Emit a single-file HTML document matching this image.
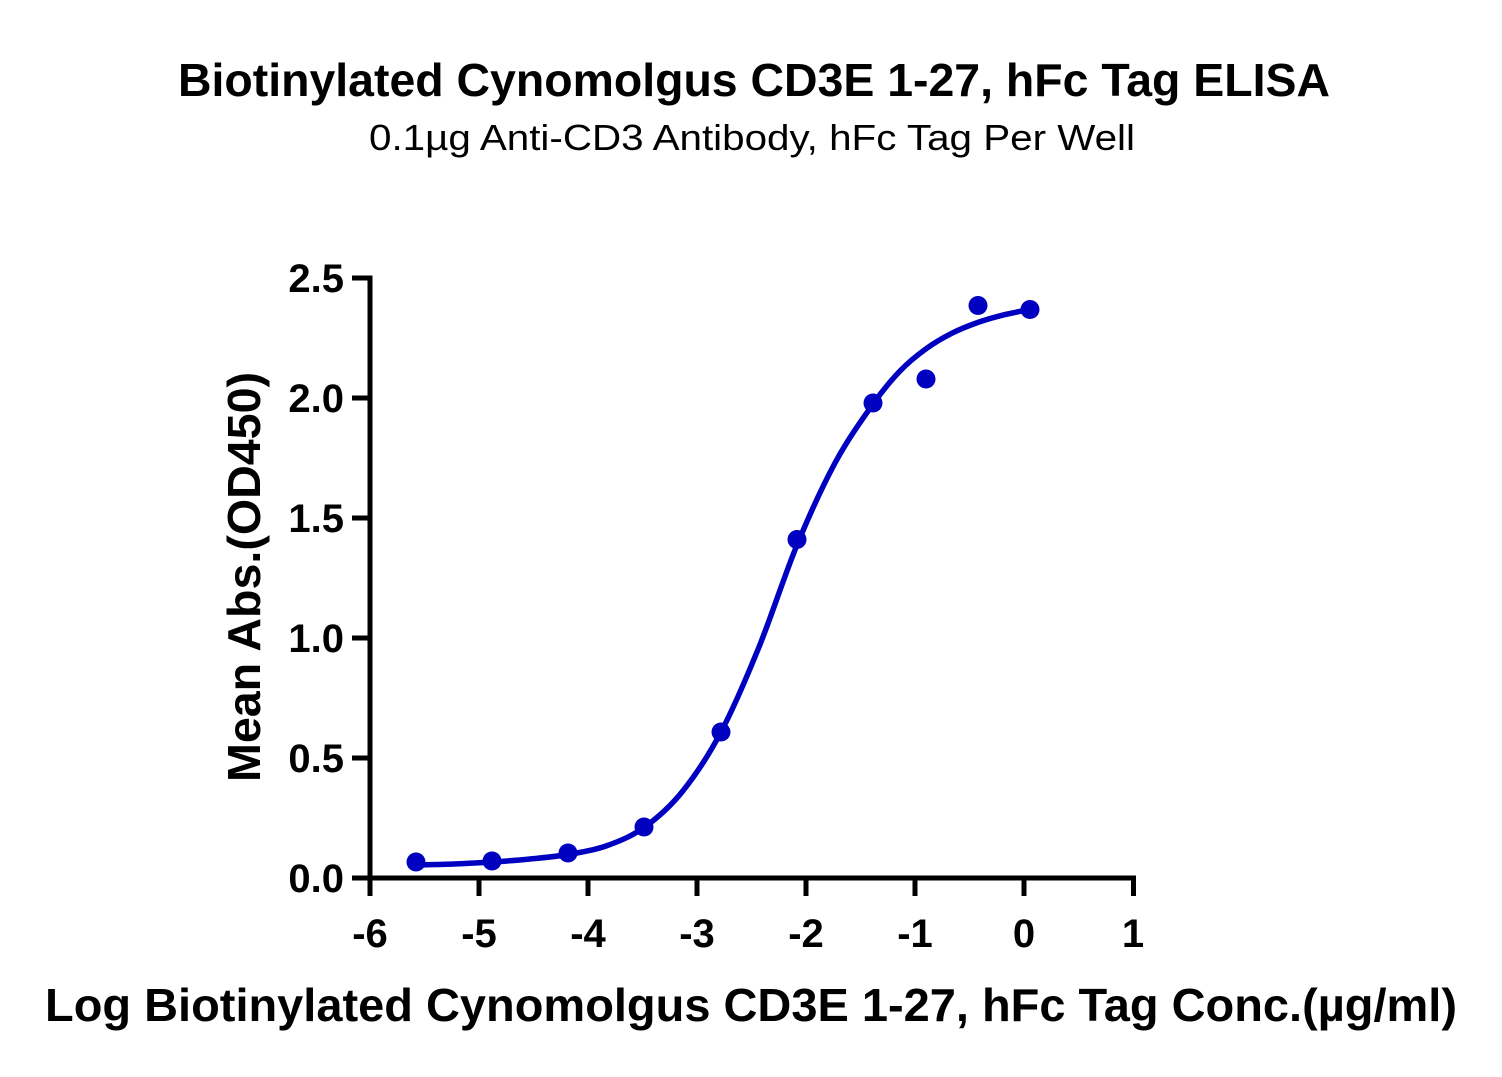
<!DOCTYPE html>
<html>
<head>
<meta charset="utf-8">
<style>
  html, body { margin: 0; padding: 0; background: #ffffff; }
  body { width: 1502px; height: 1077px; overflow: hidden; }
  svg { display: block; }
  text { font-family: "Liberation Sans", "DejaVu Sans", sans-serif; fill: #000; }
</style>
</head>
<body>
<svg width="1502" height="1077" viewBox="0 0 1502 1077" xmlns="http://www.w3.org/2000/svg">
  <rect x="0" y="0" width="1502" height="1077" fill="#ffffff"/>

  <!-- Titles -->
  <text x="178" y="96" font-size="46" font-weight="bold" textLength="1152" lengthAdjust="spacingAndGlyphs">Biotinylated Cynomolgus CD3E 1-27, hFc Tag ELISA</text>
  <text x="369" y="150" font-size="36" textLength="766" lengthAdjust="spacingAndGlyphs">0.1µg Anti-CD3 Antibody, hFc Tag Per Well</text>

  <!-- Y axis title -->
  <text transform="translate(260,577) rotate(-90)" x="0" y="0" text-anchor="middle" font-size="46" font-weight="bold" textLength="410" lengthAdjust="spacingAndGlyphs">Mean Abs.(OD450)</text>

  <!-- X axis title -->
  <text x="45" y="1021" font-size="46" font-weight="bold" textLength="1412" lengthAdjust="spacingAndGlyphs">Log Biotinylated Cynomolgus CD3E 1-27, hFc Tag Conc.(µg/ml)</text>

  <!-- Axes -->
  <g stroke="#000" stroke-width="5" fill="none" stroke-linecap="butt">
    <line x1="370" y1="275.5" x2="370" y2="880.5"/>
    <line x1="352" y1="878" x2="1136" y2="878"/>
    <!-- y ticks -->
    <line x1="352" y1="278" x2="370" y2="278"/>
    <line x1="352" y1="398" x2="370" y2="398"/>
    <line x1="352" y1="518" x2="370" y2="518"/>
    <line x1="352" y1="638" x2="370" y2="638"/>
    <line x1="352" y1="758" x2="370" y2="758"/>
    <!-- x ticks -->
    <line x1="370" y1="878" x2="370" y2="896"/>
    <line x1="479" y1="878" x2="479" y2="896"/>
    <line x1="588" y1="878" x2="588" y2="896"/>
    <line x1="697" y1="878" x2="697" y2="896"/>
    <line x1="806" y1="878" x2="806" y2="896"/>
    <line x1="915" y1="878" x2="915" y2="896"/>
    <line x1="1024" y1="878" x2="1024" y2="896"/>
    <line x1="1133.5" y1="878" x2="1133.5" y2="896"/>
  </g>

  <!-- Y tick labels -->
  <g font-size="40" font-weight="bold" text-anchor="end">
    <text x="344" y="292">2.5</text>
    <text x="344" y="412">2.0</text>
    <text x="344" y="532">1.5</text>
    <text x="344" y="652">1.0</text>
    <text x="344" y="772">0.5</text>
    <text x="344" y="892">0.0</text>
  </g>

  <!-- X tick labels -->
  <g font-size="40" font-weight="bold" text-anchor="middle">
    <text x="370" y="947">-6</text>
    <text x="479" y="947">-5</text>
    <text x="588" y="947">-4</text>
    <text x="697" y="947">-3</text>
    <text x="806" y="947">-2</text>
    <text x="915" y="947">-1</text>
    <text x="1024" y="947">0</text>
    <text x="1133" y="947">1</text>
  </g>

  <!-- Fitted curve -->
  <path fill="none" stroke="#0000c0" stroke-width="5.5" stroke-linecap="round" stroke-linejoin="round"
    d="M416,865
       C422.3,864.8 441.3,864.5 454,864
       C466.7,863.5 479.3,862.8 492,862
       C504.7,861.2 517.3,860.3 530,859
       C542.7,857.75 555.3,856.7 568,854.5
       C580.7,852.3 593.3,850.5 606,846
       C618.7,841.5 631.3,836.5 644,827.5
       C656.7,818.5 669.2,807.9 682,792
       C694.8,776.1 708.2,756.2 721,732
       C733.8,707.8 746.3,678.2 759,647
       C771.7,615.8 784.3,575.7 797,545
       C809.7,514.3 822.3,486.5 835,463
       C847.7,439.5 862.2,419.3 873,404
       C883.8,388.7 891.2,380.2 900,371
       C908.8,361.8 917.3,355.1 926,348.8
       C934.7,342.5 943.3,337.6 952,333.2
       C960.7,328.8 969.3,325.5 978,322.4
       C986.7,319.3 995.3,316.95 1004,314.8
       C1012.7,312.65 1025.7,310.4 1030,309.5"/>

  <!-- Data points -->
  <g fill="#0000c0">
    <circle cx="416" cy="862" r="9.5"/>
    <circle cx="492" cy="861" r="9.5"/>
    <circle cx="568" cy="853" r="9.5"/>
    <circle cx="644" cy="827" r="9.5"/>
    <circle cx="721" cy="732" r="9.5"/>
    <circle cx="797" cy="539.5" r="9.5"/>
    <circle cx="873" cy="403" r="9.5"/>
    <circle cx="926" cy="379" r="9.5"/>
    <circle cx="978" cy="305.5" r="9.5"/>
    <circle cx="1030" cy="309.5" r="9.5"/>
  </g>
</svg>
</body>
</html>
